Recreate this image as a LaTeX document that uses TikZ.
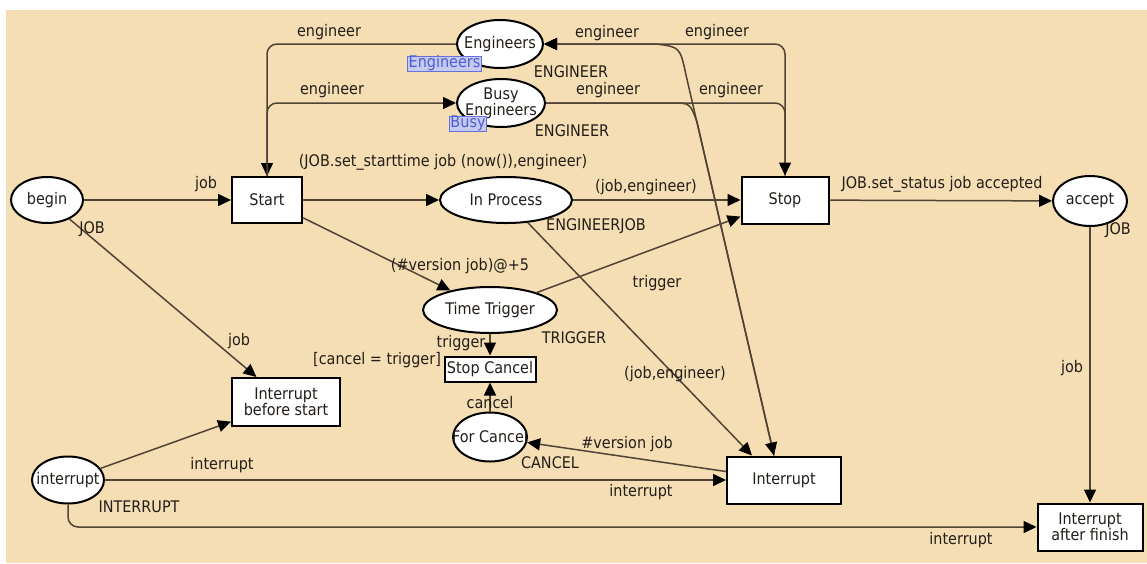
\documentclass[tikz,border=0pt]{standalone}
\usepackage{fontspec}
\setmainfont{DejaVu Sans}[FakeStretch=0.9]
\usetikzlibrary{arrows.meta,shapes.geometric,calc}

\definecolor{paper}{RGB}{245,222,179}
\definecolor{arccol}{RGB}{80,66,52}
\definecolor{ink}{RGB}{35,30,25}
\definecolor{tagfill}{RGB}{196,202,240}
\definecolor{tagline}{RGB}{100,112,220}
\definecolor{tagtext}{RGB}{80,92,210}

\begin{document}
\begin{tikzpicture}[x=1pt,y=-1pt,
  every node/.style={font=\fontsize{16}{16}\selectfont, text=ink},
  place/.style={ellipse, draw=black, line width=2pt, fill=white, inner sep=0pt},
  trans/.style={rectangle, draw=black, line width=2pt, fill=white, inner sep=0pt, align=center},
  arc/.style={draw=arccol, line width=1.5pt, -{Triangle[length=13pt,width=12pt,color=black]}, rounded corners=10pt},
  lbl/.style={inner sep=0pt},
  tag/.style={draw=tagline, fill=tagfill, text=tagtext, line width=1pt, inner xsep=1pt, inner ysep=0pt,
              minimum height=15pt, text height=10.5pt, text depth=2.5pt}
]
% canvas
\useasboundingbox (0,0) rectangle (1147,563);
\fill[white] (0,0) rectangle (1147,563);
\fill[paper] (6,10) rectangle (1147,563);

% places
\node[place, minimum width=72pt, minimum height=46pt, label={center:begin}] (begin) at (47,200) {};
\node[place, minimum width=86pt, minimum height=48pt, label={center:Engineers}] (eng) at (500,44) {};
\node[place, minimum width=88pt, minimum height=48pt, label={[align=center]center:Busy\\Engineers}] (busy) at (501,103) {};
\node[place, minimum width=132pt, minimum height=46pt, label={center:In Process}] (inproc) at (506,200) {};
\node[place, minimum width=74pt, minimum height=50pt, label={center:accept}] (accept) at (1090,201) {};
\node[place, minimum width=134pt, minimum height=46pt, label={center:Time Trigger}] (tt) at (490,310) {};
\node[place, minimum width=74pt, minimum height=49pt, label={center:For Cancel}] (fc) at (490,437) {};
\node[place, minimum width=72pt, minimum height=47pt, label={center:interrupt}] (intp) at (68,480) {};

% transitions
\node[trans, minimum width=70pt, minimum height=46pt] (start) at (267,200) {Start};
\node[trans, minimum width=87pt, minimum height=47pt] (stop) at (785,200) {Stop};
\node[trans, minimum width=91pt, minimum height=25pt] (sc) at (490,369) {Stop Cancel};
\node[trans, minimum width=108pt, minimum height=48pt] (ibs) at (286,402) {Interrupt\\before start};
\node[trans, minimum width=114pt, minimum height=47pt] (intr) at (784,480) {Interrupt};
\node[trans, minimum width=105pt, minimum height=47pt] (iaf) at (1090,527) {Interrupt\\after finish};

% fusion tags
\node[tag] (engtag) at (444.5,63.5) {Engineers};
\node[tag] (busytag) at (468,123.5) {Busy};

% arc end points on the Interrupt transition
\coordinate (intrA) at ($(intr.north west)+(26,0)$);
\coordinate (intrB) at ($(intr.north west)+(48,0)$);

% arcs
\draw[arc] (begin) -- (start);
\draw[arc] (start) -- (inproc);
\draw[arc] (inproc) -- (stop);
\draw[arc] (stop) -- (accept);
\draw[arc] (accept.south) -- (iaf.north);
\draw[arc] (eng.west) -| (start.north);
\draw[arc] (start.north) |- (busy.west);
\draw[arc] (stop.north) |- (eng.east);
\draw[arc] (busy.east) -| (stop.north);
\draw[arc, rounded corners=0pt] (intrB) -- (686,75) .. controls (680,47) .. (656,44) -- (eng.east);
\draw[arc, rounded corners=0pt] (busy.east) -- (672,103) .. controls (690,103) .. (697,122) -- (intrB);
\draw[arc] (inproc) -- (intrA);
\draw[arc] (start) -- (tt);
\draw[arc] (tt) -- (stop);
\draw[arc] (tt) -- (sc);
\draw[arc] (fc) -- (sc);
\draw[arc] (intr) -- (fc);
\draw[arc] (begin) -- (ibs);
\draw[arc] (intp) -- (ibs);
\draw[arc] (intp) -- (intr);
\draw[arc] (intp.south) |- (iaf.west);

% inscriptions
\node[lbl] (t1) at (329,32) {engineer};
\node[lbl] (t2) at (332,90) {engineer};
\node[lbl] (t3) at (443,162) {(JOB.set\_starttime job (now()),engineer)};
\node[lbl] (t4) at (206,184) {job};
\node[lbl] (t5) at (92,229) {JOB};
\node[lbl] (t6) at (607,33) {engineer};
\node[lbl] (t7) at (717,32) {engineer};
\node[lbl] (t8) at (571,72) {ENGINEER};
\node[lbl] (t9) at (608,90) {engineer};
\node[lbl] (t10) at (731,90) {engineer};
\node[lbl] (t11) at (572,131) {ENGINEER};
\node[lbl] (t12) at (646,187) {(job,engineer)};
\node[lbl] (t13) at (596,226) {ENGINEERJOB};
\node[lbl] (t14) at (942,184) {JOB.set\_status job accepted};
\node[lbl] (t15) at (1118,230) {JOB};
\node[lbl] (t16) at (1072,368) {job};
\node[lbl] (t17) at (961,540) {interrupt};
\node[lbl] (t18) at (239,341) {job};
\node[lbl] (t19) at (377,360) {[cancel = trigger]};
\node[lbl] (t20) at (222,465) {interrupt};
\node[lbl] (t21) at (139,507) {INTERRUPT};
\node[lbl] (t22) at (641,492) {interrupt};
\node[lbl] (t23) at (627,444) {\#version job};
\node[lbl] (t24) at (550,463) {CANCEL};
\node[lbl] (t25) at (675,374) {(job,engineer)};
\node[lbl] (t26) at (657,283) {trigger};
\node[lbl] (t27) at (574,338) {TRIGGER};
\node[lbl] (t28) at (461,343) {trigger};
\node[lbl] (t29) at (490,403) {cancel};
\node[lbl] (t30) at (460,266) {(\#version job)@+5};
\end{tikzpicture}
\end{document}
